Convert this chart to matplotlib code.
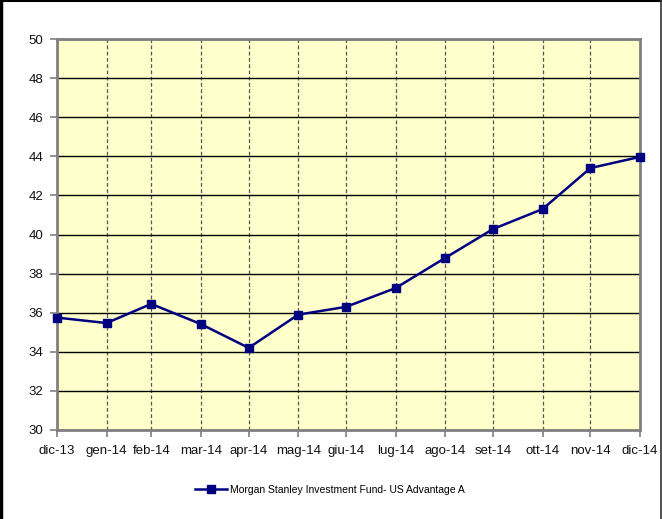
import matplotlib
matplotlib.use("Agg")
import matplotlib.pyplot as plt
import matplotlib.lines as mlines
import pandas as pd
from matplotlib import font_manager

labels = ["dic-13", "gen-14", "feb-14", "mar-14", "apr-14", "mag-14", "giu-14",
          "lug-14", "ago-14", "set-14", "ott-14", "nov-14", "dic-14"]
dates = list(pd.date_range("2013-12-31", periods=13, freq="ME"))
values = [35.75, 35.47, 36.45, 35.42, 34.2, 35.9, 36.3, 37.26, 38.8, 40.28, 41.3, 43.4, 43.97]
series_name = "Morgan Stanley Investment Fund- US Advantage A"
yticks = list(range(30, 51, 2))

names = {f.name for f in font_manager.fontManager.ttflist}
narrow = "Liberation Sans Narrow" in names
fam = "Liberation Sans Narrow" if narrow else "Liberation Sans"
plt.rcParams["font.family"] = [fam, "DejaVu Sans"]
tick_size = 11.5 if narrow else 9.5
leg_size = 8.5 if narrow else 7.5

fig = plt.figure(figsize=(6.62, 5.19), dpi=100)
fig.patch.set_facecolor("white")
ax = fig.add_axes([57/662, 1-430/519, (640-57)/662, (430-39)/519])
ax.set_facecolor("#FFFFCC")

ax.plot(dates, values, color="#000080", lw=1.8, marker="s", ms=5.5,
        markerfacecolor="#000080", markeredgecolor="#000080", label=series_name,
        clip_on=False, zorder=5)

ax.set_ylim(30, 50)
ax.set_yticks(yticks)
ax.set_xlim(dates[0], dates[-1])
ax.set_xticks(dates)
ax.set_xticklabels(labels)

ax.grid(axis="y", color="black", lw=1.0, ls="-")
ax.grid(axis="x", color="#555555", lw=0.9, ls=(0, (3, 2)))
ax.set_axisbelow(True)

for sp in ax.spines.values():
    sp.set_color("#808080")
    sp.set_linewidth(2)

ax.tick_params(axis="both", colors="#808080", labelcolor="#111111", labelsize=tick_size,
               length=5, width=1.2, direction="out")
ax.tick_params(axis="x", pad=6)
ax.tick_params(axis="y", pad=5)

fig.legend(loc="center", bbox_to_anchor=(330/662, 1-490/519), frameon=False,
           fontsize=leg_size, handlelength=3, handletextpad=0.3)

# outer chart border (left, top, right)
fig.lines.append(mlines.Line2D([0.0015, 0.0015], [0, 1], transform=fig.transFigure,
                               color="black", lw=2.5))
fig.lines.append(mlines.Line2D([0, 1], [0.999, 0.999], transform=fig.transFigure,
                               color="black", lw=1.5))
fig.lines.append(mlines.Line2D([0.9985, 0.9985], [0, 1], transform=fig.transFigure,
                               color="#333333", lw=1.2))

fig.savefig("out.png", dpi=100)
